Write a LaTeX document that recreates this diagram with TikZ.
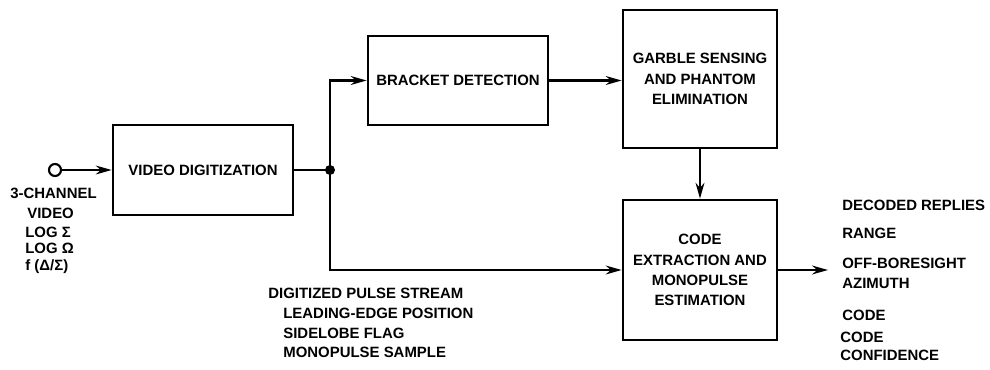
\documentclass[tikz,border=0pt]{standalone}
\usepackage{fontspec}
\setsansfont{Liberation Sans}
\usetikzlibrary{arrows.meta}
\tikzset{
  blockbox/.style={draw, line width=1.5pt, align=center, inner sep=0pt},
  flow/.style={line width=1.5pt, -{Stealth[length=9pt,width=5pt]}},
  plain/.style={line width=1.5pt},
  lbl/.style={anchor=west, inner sep=0pt},
}
\begin{document}
\begin{tikzpicture}[font=\sffamily\bfseries\fontsize{8.5}{11.5}\selectfont]
			\useasboundingbox (0,0) rectangle (19.8,7.38);
			\node[blockbox, minimum width=3.6cm, minimum height=1.8cm] (vid) at (4.06,3.98) {VIDEO DIGITIZATION};
			\node[blockbox, minimum width=3.6cm, minimum height=1.78cm] (brk) at (9.16,5.77) {BRACKET DETECTION};
			\node[blockbox, minimum width=3.08cm, minimum height=2.76cm] (gar) at (14,5.8) {GARBLE SENSING\\AND PHANTOM\\ELIMINATION};
			\node[blockbox, minimum width=3.08cm, minimum height=2.8cm] (cod) at (14,1.98) {CODE\\EXTRACTION AND\\MONOPULSE\\ESTIMATION};
			\node[draw, circle, line width=1.2pt, minimum size=0.24cm, inner sep=0pt] (src) at (1.1,3.98) {};
			\coordinate (jn) at (6.6,3.98);
			\coordinate (out) at (16.56,1.98);
			\draw[flow] (src) -- (vid.west);
			\draw[plain] (vid.east) -- (jn);
			\fill (jn) circle (0.1);
			\draw[flow] (jn) |- (brk.west);
			\draw[flow] (jn) |- (cod.west);
			\draw[flow] (brk.east) -- (brk.east -| gar.west);
			\draw[flow] (gar.south) -- (cod.north);
			\draw[flow] (cod.east) -- (out);
			% input signals
			\node[lbl] (in1) at (0.2,3.52) {3-CHANNEL};
			\node[lbl] (in2) at (0.54,3.12) {VIDEO};
			\node[lbl] (in3) at (0.5,2.74) {LOG Σ};
			\node[lbl] (in4) at (0.5,2.42) {LOG Ω};
			\node[lbl] (in5) at (0.5,2.04) {f (Δ/Σ)};
			% pulse stream
			\node[lbl] (ps1) at (5.36,1.52) {DIGITIZED PULSE STREAM};
			\node[lbl] (ps2) at (5.66,1.12) {LEADING-EDGE POSITION};
			\node[lbl] (ps3) at (5.66,0.72) {SIDELOBE FLAG};
			\node[lbl] (ps4) at (5.66,0.34) {MONOPULSE SAMPLE};
			% outputs
			\node[lbl] (ou1) at (16.84,3.28) {DECODED REPLIES};
			\node[lbl] (ou2) at (16.84,2.72) {RANGE};
			\node[lbl] (ou3) at (16.84,2.12) {OFF-BORESIGHT};
			\node[lbl] (ou4) at (16.84,1.72) {AZIMUTH};
			\node[lbl] (ou5) at (16.84,1.08) {CODE};
			\node[lbl] (ou6) at (16.8,0.64) {CODE};
			\node[lbl] (ou7) at (16.8,0.28) {CONFIDENCE};
		\end{tikzpicture}
\end{document}
